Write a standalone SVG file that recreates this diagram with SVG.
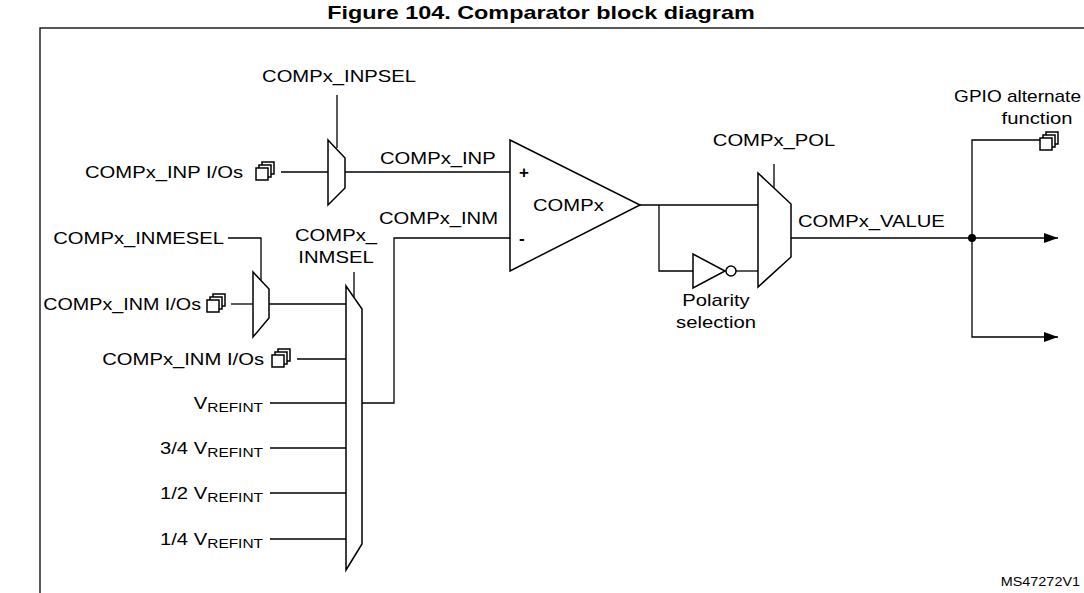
<svg xmlns="http://www.w3.org/2000/svg" width="1084" height="593" viewBox="0 0 1084 593">
<style>
text{font-family:"Liberation Sans",Arial,sans-serif;font-size:17px;fill:#000}
.t{font-weight:bold;font-size:18px}
.s{font-size:12px}
.sm{font-size:13px}
.ln{fill:none;stroke:#000;stroke-width:1.3}
.sh{fill:#fff;stroke:#000;stroke-width:1.5}
</style>
<defs>
<g id="io">
<rect x="6" y="-8" width="12" height="12" class="sh"/>
<rect x="3" y="-5" width="12" height="12" class="sh"/>
<rect x="0" y="-2" width="12" height="12" class="sh"/>
</g>
<marker id="ar" markerWidth="14" markerHeight="10" refX="14" refY="5" orient="auto" markerUnits="userSpaceOnUse"><path d="M0,0 L14,5 L0,10 Z" fill="#000"/></marker>
</defs>
<rect width="1084" height="593" fill="#fff"/>
<text class="t" transform="translate(541,19) scale(1.3,1)" text-anchor="middle">Figure 104.  Comparator block diagram</text>
<rect x="40" y="28" width="1060" height="580" fill="none" stroke="#000" stroke-width="1.3"/>
<g id="connectors" class="ln">
<path d="M337,95 V148"/>
<path d="M281,172 H328"/>
<path d="M345,172 H510"/>
<path d="M228,238 H261 V281"/>
<path d="M231,304 H253"/>
<path d="M269,304 H346"/>
<path d="M297,359 H346"/>
<path d="M270,403 H346"/>
<path d="M270,448 H346"/>
<path d="M270,493 H346"/>
<path d="M270,539 H346"/>
<path d="M354,272 V297"/>
<path d="M362,403 H394 V238 H510"/>
<path d="M640,205 H758"/>
<path d="M659,205 V271 H693"/>
<path d="M736,271 H758"/>
<path d="M774,164 V193"/>
<path d="M791,238 H1058" marker-end="url(#ar)"/>
<path d="M1040,140 H972 V337 H1058" marker-end="url(#ar)"/>
<circle cx="972" cy="238" r="4" fill="#000" stroke="none"/>
</g>
<g id="inpsel"><path d="M328,140 L345,158 V188 L328,205 Z" class="sh"/><text transform="translate(339,82) scale(1.19,1)" text-anchor="middle">COMPx_INPSEL</text></g>
<g id="inp-io"><text transform="translate(243,178) scale(1.19,1)" text-anchor="end">COMPx_INP I/Os</text><use href="#io" x="256" y="170"/></g>
<g id="inp-label"><text transform="translate(380,164) scale(1.19,1)">COMPx_INP</text></g>
<g id="comp"><path d="M510,140 L640,205 L510,271 Z" class="sh"/><text x="519" y="178" font-weight="bold">+</text><text x="519" y="244" font-weight="bold">-</text><text transform="translate(533,211) scale(1.19,1)">COMPx</text></g>
<g id="inm-label"><text transform="translate(379,224) scale(1.19,1)">COMPx_INM</text></g>
<g id="inmesel"><path d="M253,272 L269,289 V318 L253,337 Z" class="sh"/><text transform="translate(224,244) scale(1.19,1)" text-anchor="end">COMPx_INMESEL</text></g>
<g id="inm-io1"><text transform="translate(201,310) scale(1.16,1)" text-anchor="end">COMPx_INM I/Os</text><use href="#io" x="207" y="302"/></g>
<g id="inm-io2"><text transform="translate(264,365) scale(1.19,1)" text-anchor="end">COMPx_INM I/Os</text><use href="#io" x="272" y="357"/></g>
<g id="vref"><text transform="translate(263,409) scale(1.19,1)" text-anchor="end">V<tspan class="sm" dy="3">REFINT</tspan></text></g>
<g id="vref34"><text transform="translate(263,454) scale(1.19,1)" text-anchor="end">3/4 V<tspan class="sm" dy="3">REFINT</tspan></text></g>
<g id="vref12"><text transform="translate(263,499) scale(1.19,1)" text-anchor="end">1/2 V<tspan class="sm" dy="3">REFINT</tspan></text></g>
<g id="vref14"><text transform="translate(263,545) scale(1.19,1)" text-anchor="end">1/4 V<tspan class="sm" dy="3">REFINT</tspan></text></g>
<g id="inmsel"><path d="M346,286 L362,309 V544 L346,570 Z" class="sh"/><text transform="translate(336,241) scale(1.19,1)" text-anchor="middle">COMPx_</text><text transform="translate(336,263) scale(1.19,1)" text-anchor="middle">INMSEL</text></g>
<g id="inverter"><path d="M693,254 L725,271 L693,288 Z" class="sh"/><circle cx="731" cy="271" r="5" class="sh"/><text transform="translate(716,306) scale(1.19,1)" text-anchor="middle">Polarity</text><text transform="translate(716,328) scale(1.19,1)" text-anchor="middle">selection</text></g>
<g id="polmux"><path d="M758,173 L791,204 V257 L758,287 Z" class="sh"/><text transform="translate(774,146) scale(1.19,1)" text-anchor="middle">COMPx_POL</text></g>
<g id="value"><text transform="translate(798,227) scale(1.19,1)">COMPx_VALUE</text></g>
<g id="gpio"><text transform="translate(1081,102) scale(1.12,1)" text-anchor="end">GPIO alternate</text><text transform="translate(1037,124) scale(1.19,1)" text-anchor="middle">function</text><use href="#io" x="1040" y="140"/></g>
<text transform="translate(1080,586) scale(1.2,1)" text-anchor="end" class="s">MS47272V1</text>
</svg>
